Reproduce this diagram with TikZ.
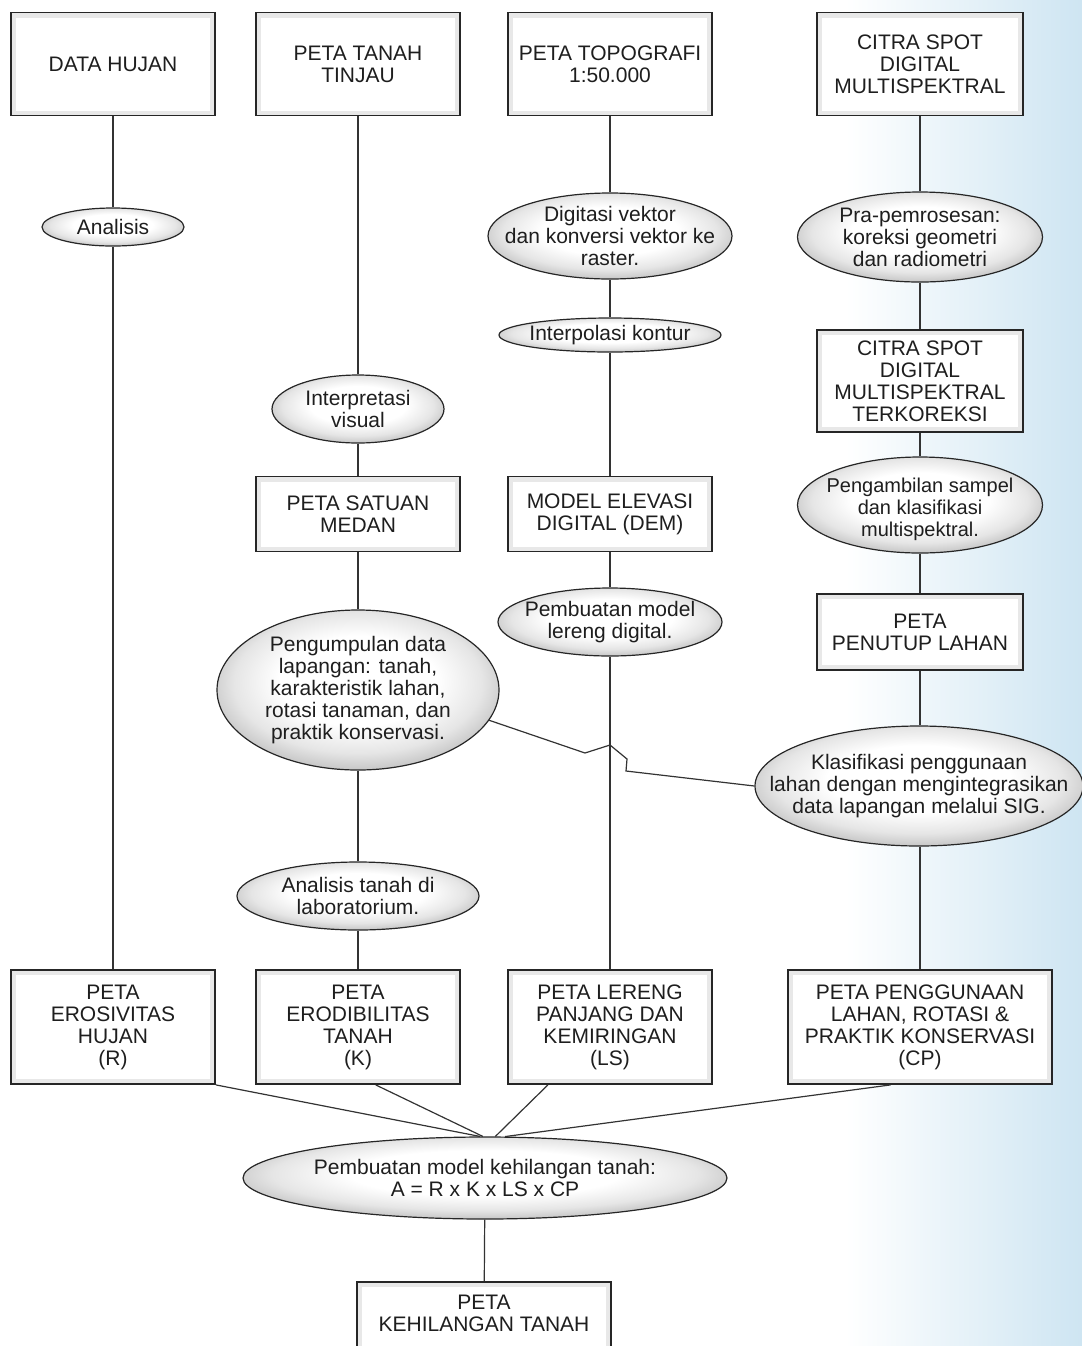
\documentclass[tikz,border=0pt]{standalone}
\usepackage{fontspec}
\setmainfont{Liberation Sans}
\usetikzlibrary{shapes.geometric}

\definecolor{bgblue}{RGB}{206,229,242}
\definecolor{ink}{RGB}{30,30,30}
\pgfdeclareradialshading{elshade}{\pgfpoint{0bp}{4bp}}{color(0bp)=(white); color(14bp)=(white); color(22bp)=(gray!20); color(29bp)=(gray!55); color(50bp)=(gray!55)}
\newcommand{\diafont}{\fontsize{10.5pt}{11pt}\selectfont}

\begin{document}
\begin{tikzpicture}[
        x=0.5pt, y=-0.5pt,
        box/.style={rectangle, draw=black!85, line width=0.9pt, fill=gray!18, inner sep=0pt,
            align=center, font=\diafont, text=ink,
            path picture={\fill[white] ([shift={(2.5pt,2.5pt)}]path picture bounding box.south west)
                rectangle ([shift={(-2.5pt,-2.5pt)}]path picture bounding box.north east);}},
        el/.style={ellipse, draw=black!85, line width=0.6pt, shade, shading=elshade, inner sep=0pt},
        eltxt/.style={align=center, font=\diafont, text=ink},
        link/.style={draw=black!80, line width=0.6pt},
    ]
    \useasboundingbox (0,0) rectangle (1082,1346);
    \shade[left color=white, right color=bgblue] (845,0) rectangle (1082,1346);

    % sumber data
    \node[box, minimum width=102pt, minimum height=51.5pt] (hujan) at (113,64)  {DATA HUJAN};
    \node[box, minimum width=102pt, minimum height=51.5pt] (tinjau) at (358,64) {PETA TANAH\\TINJAU};
    \node[box, minimum width=102pt, minimum height=51.5pt] (topo) at (610,64)   {PETA TOPOGRAFI\\1:50.000};
    \node[box, minimum width=103pt, minimum height=51.5pt] (citra) at (920,64)  {CITRA SPOT\\DIGITAL\\MULTISPEKTRAL};

    % proses
    \node[el, minimum width=71pt, minimum height=19pt] (analisis) at (113,227)
        [label={[eltxt]center:Analisis}] {};
    \node[el, minimum width=122pt, minimum height=43pt] (digitasi) at (610,236)
        [label={[eltxt]center:{Digitasi vektor\\dan konversi vektor ke\\raster.}}] {};
    \node[el, minimum width=111pt, minimum height=17pt] (interpolasi) at (610,335)
        [label={[eltxt]center:Interpolasi kontur}] {};
    \node[el, minimum width=122.5pt, minimum height=45pt] (pra) at (920,237)
        [label={[eltxt]center:{Pra-pemrosesan:\\koreksi geometri\\dan radiometri}}] {};
    \node[box, minimum width=103pt, minimum height=51pt] (terkoreksi) at (920,381)
        {CITRA SPOT\\DIGITAL\\MULTISPEKTRAL\\TERKOREKSI};
    \node[el, minimum width=86pt, minimum height=34pt] (interpretasi) at (358,409)
        [label={[eltxt]center:{Interpretasi\\visual}}] {};
    \node[box, minimum width=102pt, minimum height=37.5pt] (satuan) at (358,514)  {PETA SATUAN\\MEDAN};
    \node[box, minimum width=102pt, minimum height=37.5pt] (elevasi) at (610,514) {MODEL ELEVASI\\DIGITAL (DEM)};
    \node[el, minimum width=122.5pt, minimum height=48pt] (pengambilan) at (920,505)
        [label={[eltxt, font=\fontsize{10pt}{11pt}\selectfont, yshift=-2pt]center:{Pengambilan sampel\\dan klasifikasi\\multispektral.}}] {};
    \node[box, minimum width=103pt, minimum height=38pt] (penutup) at (920,632) {PETA\\PENUTUP LAHAN};
    \node[el, minimum width=112pt, minimum height=34pt] (lereng) at (610,622)
        [label={[eltxt]center:{Pembuatan model\\lereng digital.}}] {};
    \node[el, minimum width=141pt, minimum height=80pt] (lapangan) at (358,690)
        [label={[eltxt]center:{Pengumpulan data\\lapangan: tanah,\\karakteristik lahan,\\rotasi tanaman, dan\\praktik konservasi.}}] {};
    \node[el, minimum width=164pt, minimum height=60pt] (klasifikasi) at (919,786)
        [label={[eltxt]center:{Klasifikasi penggunaan\\lahan dengan mengintegrasikan\\data lapangan melalui SIG.}}] {};
    \node[el, minimum width=121pt, minimum height=34pt] (lab) at (358,896)
        [label={[eltxt]center:{Analisis tanah di\\laboratorium.}}] {};

    % faktor USLE
    \node[box, minimum width=102pt, minimum height=57pt] (ero) at (113,1027)  {PETA\\EROSIVITAS\\HUJAN\\(R)};
    \node[box, minimum width=102pt, minimum height=57pt] (erod) at (358,1027) {PETA\\ERODIBILITAS\\TANAH\\(K)};
    \node[box, minimum width=102pt, minimum height=57pt] (ls) at (610,1027)   {PETA LERENG\\PANJANG DAN\\KEMIRINGAN\\(LS)};
    \node[box, minimum width=132pt, minimum height=57pt] (cp) at (920,1027)   {PETA PENGGUNAAN\\LAHAN, ROTASI \&\\PRAKTIK KONSERVASI\\(CP)};

    \node[el, minimum width=242pt, minimum height=41pt] (model) at (485,1178)
        [label={[eltxt]center:{Pembuatan model kehilangan tanah:\\A = R x K x LS x CP}}] {};
    \node[box, minimum width=127pt, minimum height=37pt, text depth=6pt] (hasil) at (484,1319) {PETA\\KEHILANGAN TANAH};

    % garis
    \draw[link] (hujan) -- (analisis) -- (ero);
    \draw[link] (tinjau) -- (interpretasi) -- (satuan) -- (lapangan) -- (lab) -- (erod);
    \draw[link] (topo) -- (digitasi) -- (interpolasi) -- (elevasi) -- (lereng) -- (ls);
    \draw[link] (citra) -- (pra) -- (terkoreksi) -- (pengambilan) -- (penutup) -- (penutup |- klasifikasi.north);
    \draw[link] (penutup |- klasifikasi.south) -- (cp);
    \draw[link] (lapangan.-13) -- (585,753) -- (610,745) -- (627,759) -- (626,771) -- (klasifikasi.west);
    \draw[link] (ero.south east) -- (model.97);
    \draw[link] (erod.-73) -- (model.93);
    \draw[link] (ls.-137) -- (model.76);
    \draw[link] (cp.-117) -- (model.64);
    \draw[link] (model) -- (hasil);
\end{tikzpicture}
\end{document}
